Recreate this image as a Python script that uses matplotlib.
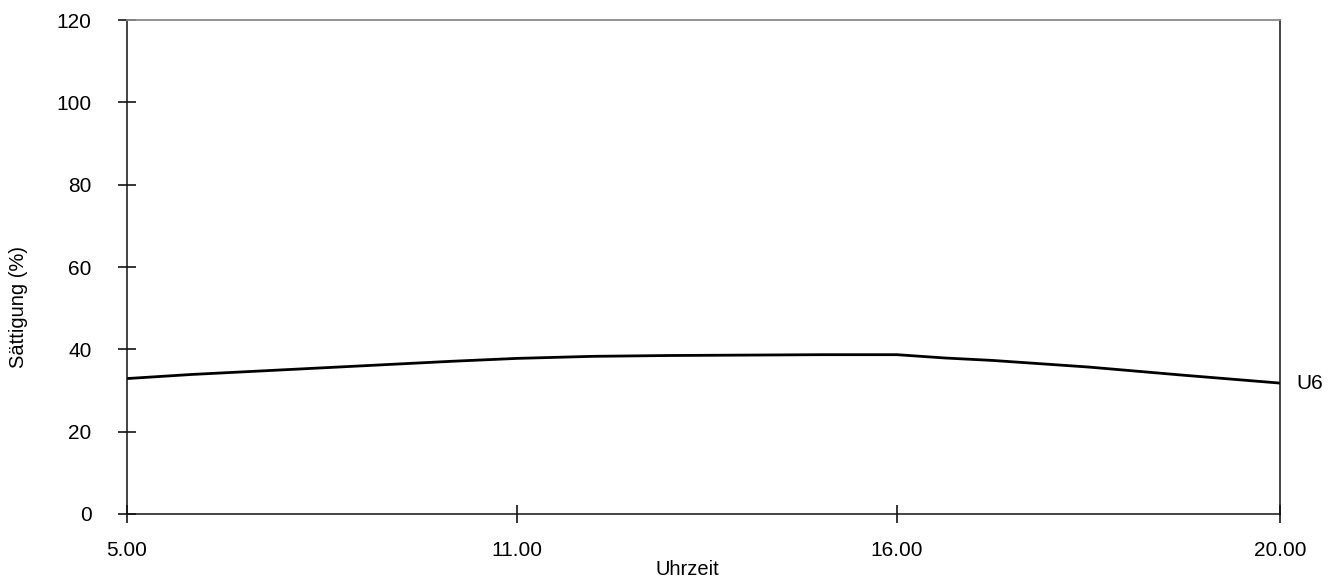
import matplotlib
matplotlib.use("Agg")
import matplotlib.pyplot as plt
import numpy as np

# Stunden (Uhrzeit) und Sättigung (%) der Kurve U6
hours = [5, 6, 7, 8, 9, 10, 11, 12, 13, 14, 15, 16, 16.5, 17, 18, 19, 20]
saturation = [32.9, 33.9, 34.7, 35.5, 36.3, 37.1, 37.8, 38.3, 38.5, 38.6,
              38.7, 38.7, 37.9, 37.3, 35.7, 33.7, 31.8]
series_name = "U6"

x_ticks = [5, 11, 16, 20]
x_labels = ["5.00", "11.00", "16.00", "20.00"]
y_ticks = [0, 20, 40, 60, 80, 100, 120]

plt.rcParams['font.family'] = ['Liberation Sans', 'DejaVu Sans']

# Achse: die Ticks liegen fast gleich weit auseinander, die Stunden nicht
tick_pos = [0, 390, 770, 1153]


def fwd(h):
    return np.interp(h, x_ticks, tick_pos)


def inv(p):
    return np.interp(p, tick_pos, x_ticks)


fig = plt.figure(figsize=(13.34, 5.8), dpi=100)
ax = fig.add_axes([0.0952, 0.1138, 0.8643, 0.8517])
ax.set_xscale('function', functions=(fwd, inv))

ax.plot(hours, saturation, color='black', linewidth=2.0)
ax.annotate(series_name, xy=(hours[-1], saturation[-1]), xytext=(12, 0),
            textcoords='offset points', va='center', ha='left', fontsize=15)

ax.set_xlim(5, 20)
ax.set_ylim(0, 120)
ax.set_xticks(x_ticks)
ax.set_xticklabels(x_labels)
ax.set_yticks(y_ticks)
ax.minorticks_off()

ax.tick_params(axis='both', direction='inout', length=13, width=1.1,
               labelsize=15, color='black')
ax.tick_params(axis='y', pad=19)
ax.tick_params(axis='x', pad=13)

for side in ['left', 'right', 'bottom']:
    ax.spines[side].set_linewidth(1.1)
    ax.spines[side].set_color('#111111')
ax.spines['top'].set_linewidth(1.3)
ax.spines['top'].set_color('#8a8a8a')

ax.set_xlabel("Uhrzeit", fontsize=14.5)
ax.xaxis.set_label_coords(0.486, -0.093)
ax.set_ylabel("Sättigung (%)", fontsize=14.5)
ax.yaxis.set_label_coords(-0.086, 0.42)

fig.savefig("out.png", dpi=100)
